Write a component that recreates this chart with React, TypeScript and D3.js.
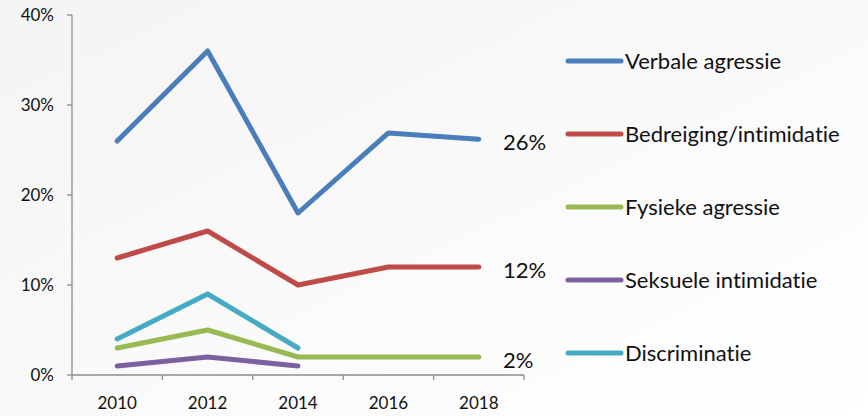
import React from "react";
import * as d3 from "d3";

const years = ["2010", "2012", "2014", "2016", "2018"];
const yTicks = [0, 10, 20, 30, 40];

const seriesNames = [
  "Verbale agressie",
  "Bedreiging/intimidatie",
  "Fysieke agressie",
  "Seksuele intimidatie",
  "Discriminatie",
];
const seriesColors = ["#4A7EBB", "#BE4B48", "#98B954", "#7D60A0", "#46AAC5"];

const verbale = [26, 36, 18, 26.9, 26.2];
const bedreiging = [13, 16, 10, 12, 12];
const fysiek = [3, 5, 2, 2, 2];
const seksueel = [1, 2, 1, null, null];
const discriminatie = [4, 9, 3, null, null];

const seriesValues: (number | null)[][] = [verbale, bedreiging, fysiek, seksueel, discriminatie];

const endLabels = ["26%", "12%", "2%"];
const endLabelValues = [26.2, 12, 2];

export default function App() {
  const W = 868;
  const H = 416;
  const x0 = 72;
  const x1 = 524;
  const y0 = 375;
  const y1 = 15;

  const x = d3.scaleBand<string>().domain(years).range([x0, x1]);
  const y = d3.scaleLinear().domain([0, 40]).range([y0, y1]);
  const cx = (d: string) => (x(d) as number) + x.bandwidth() / 2;

  const line = d3
    .line<number | null>()
    .defined((d) => d !== null)
    .x((_, i) => cx(years[i]))
    .y((d) => y(d as number));

  const font = "Lato, 'Open Sans', sans-serif";
  const txtStyle = { fontVariantLigatures: "none" as const, fontFeatureSettings: "'liga' 0, 'clig' 0" };
  const boundaries = years.map((yr) => x(yr) as number).concat([x1]);

  return (
    <svg width={W} height={H} style={{ position: "absolute", left: 0, top: 0 }}>
      <defs>
        <linearGradient id="bg" x1="0" y1="0" x2="1" y2="1">
          <stop offset="0" stopColor="#f4f4f4" />
          <stop offset="1" stopColor="#ffffff" />
        </linearGradient>
      </defs>
      <rect x={0} y={0} width={W} height={H} fill="url(#bg)" />
      {/* y axis */}
      <line x1={x0} x2={x0} y1={y1} y2={y0} stroke="#8c8c8c" strokeWidth={1.3} />
      {yTicks.map((t) => (
        <g key={t}>
          <line x1={x0 - 5} x2={x0} y1={y(t)} y2={y(t)} stroke="#8c8c8c" strokeWidth={1.3} />
          <text
            x={x0 - 18}
            y={y(t)}
            dy="0.35em"
            textAnchor="end"
            fontFamily={font}
            fontSize={17}
            fill="#111"
            style={txtStyle}
          >
            {t}%
          </text>
        </g>
      ))}
      {/* x axis */}
      <line x1={x0} x2={x1} y1={y0} y2={y0} stroke="#8c8c8c" strokeWidth={1.3} />
      {boundaries.map((b, i) => (
        <line key={i} x1={b} x2={b} y1={y0} y2={y0 + 5} stroke="#8c8c8c" strokeWidth={1.3} />
      ))}
      {years.map((yr) => (
        <text
          key={yr}
          x={cx(yr)}
          y={y0 + 34}
          textAnchor="middle"
          fontFamily={font}
          fontSize={17}
          fill="#111"
          style={txtStyle}
        >
          {yr}
        </text>
      ))}
      {/* lines */}
      {seriesValues.map((vals, i) => (
        <path
          key={i}
          d={line(vals) || ""}
          fill="none"
          stroke={seriesColors[i]}
          strokeWidth={5}
          strokeLinejoin="round"
          strokeLinecap="round"
        />
      ))}
      {/* end labels */}
      {endLabels.map((l, i) => (
        <text
          key={l}
          x={503}
          y={y(endLabelValues[i]) + 3}
          dy="0.35em"
          fontFamily={font}
          fontSize={22}
          fill="#111"
          style={txtStyle}
        >
          {l}
        </text>
      ))}
      {/* legend */}
      {seriesNames.map((n, i) => {
        const ly = 61 + i * 73;
        return (
          <g key={n}>
            <line
              x1={568}
              x2={621}
              y1={ly}
              y2={ly}
              stroke={seriesColors[i]}
              strokeWidth={5}
              strokeLinecap="round"
            />
            <text
              x={625}
              y={ly}
              dy="0.35em"
              fontFamily={font}
              fontSize={22}
              fill="#111"
              style={txtStyle}
            >
              {n}
            </text>
          </g>
        );
      })}
    </svg>
  );
}
